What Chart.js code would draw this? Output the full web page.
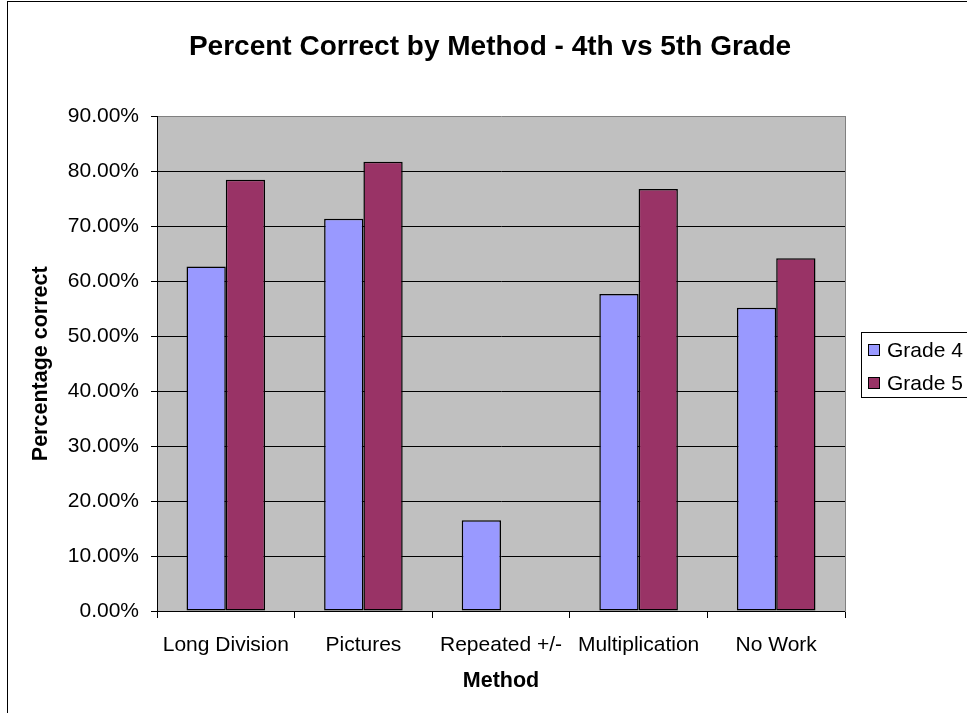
<!DOCTYPE html>
<html>
<head>
<meta charset="utf-8">
<title>Percent Correct by Method</title>
<script src="https://cdn.jsdelivr.net/npm/chart.js@4"></script>
<style>
  html, body { margin: 0; padding: 0; background: #fff; }
  canvas { display: block; }
</style>
</head>
<body>
<canvas id="methodChart" width="967" height="713"></canvas>
<script>
// Chart data
const methods = ["Long Division", "Pictures", "Repeated +/-", "Multiplication", "No Work"];
const grade4 = [62.7, 71.4, 16.5, 57.7, 55.2];
const grade5 = [78.5, 81.8, 0, 76.8, 64.2];
const seriesNames = ["Grade 4", "Grade 5"];
const yTicks = [0, 10, 20, 30, 40, 50, 60, 70, 80, 90];

const fontFamily = "'Liberation Sans', Arial, sans-serif";

// Grey plot area plus the outer chart frame
const plotBackground = {
  id: "plotBackground",
  beforeDraw(chart) {
    const { ctx, chartArea } = chart;
    ctx.save();
    ctx.fillStyle = "#fff";
    ctx.fillRect(0, 0, chart.width, chart.height);
    ctx.fillStyle = "#C0C0C0";
    ctx.fillRect(chartArea.left, chartArea.top, chartArea.right - chartArea.left, chartArea.bottom - chartArea.top);
    ctx.strokeStyle = "#000";
    ctx.lineWidth = 1;
    ctx.strokeRect(7.5, 1.5, 1200, 1200);
    ctx.restore();
  },
};

// Excel style boxed legend on the right
const boxedLegend = {
  id: "boxedLegend",
  afterDraw(chart) {
    const { ctx } = chart;
    ctx.save();
    ctx.fillStyle = "#fff";
    ctx.fillRect(861, 332, 200, 65);
    ctx.strokeStyle = "#000";
    ctx.lineWidth = 1;
    ctx.strokeRect(861.5, 332.5, 200, 65);
    ctx.font = "21px " + fontFamily;
    ctx.textBaseline = "middle";
    chart.data.datasets.forEach((ds, i) => {
      const y = 350 + i * 33;
      ctx.fillStyle = ds.backgroundColor;
      ctx.fillRect(868.5, y - 5.5, 11, 11);
      ctx.strokeRect(868.5, y - 5.5, 11, 11);
      ctx.fillStyle = "#000";
      ctx.fillText(ds.label, 887, y + 1);
    });
    ctx.restore();
  },
};

const ctx = document.getElementById("methodChart").getContext("2d");

new Chart(ctx, {
  type: "bar",
  data: {
    labels: methods,
    datasets: [
      {
        label: seriesNames[0],
        data: grade4,
        backgroundColor: "#9999FF",
        borderColor: "#000",
        borderWidth: 1.5,
        borderSkipped: false,
      },
      {
        label: seriesNames[1],
        data: grade5,
        backgroundColor: "#993366",
        borderColor: "#000",
        borderWidth: 1.5,
        borderSkipped: false,
      },
    ],
  },
  options: {
    responsive: false,
    animation: false,
    devicePixelRatio: 1,
    layout: {
      padding: { left: 13, right: 0, top: 0, bottom: 0 },
    },
    datasets: {
      bar: {
        categoryPercentage: 0.571,
        barPercentage: 1.0,
      },
    },
    plugins: {
      legend: { display: false },
      tooltip: { enabled: false },
      title: {
        display: true,
        text: "Percent Correct by Method - 4th vs 5th Grade",
        color: "#000",
        font: { family: fontFamily, size: 28, weight: "bold" },
        padding: { top: 30, bottom: 53 },
      },
    },
    scales: {
      x: {
        offset: true,
        grid: {
          display: true,
          offset: true,
          drawOnChartArea: false,
          drawTicks: true,
          tickLength: 7,
          color: "#000",
        },
        border: { display: true, color: "#000", width: 1 },
        ticks: {
          color: "#000",
          padding: 15,
          maxRotation: 0,
          autoSkip: false,
          font: { family: fontFamily, size: 21 },
        },
        title: {
          display: true,
          text: "Method",
          color: "#000",
          font: { family: fontFamily, size: 21.5, weight: "bold" },
          padding: { top: 0, bottom: 19 },
        },
        afterFit(scale) {
          scale.height = 102;
        },
      },
      y: {
        min: 0,
        max: 90,
        afterBuildTicks(scale) {
          scale.ticks = yTicks.map((v) => ({ value: v }));
        },
        grid: {
          color: (c) => (c.tick && c.tick.value === 90 ? "#808080" : "#000"),
          tickColor: "#000",
          tickLength: 6,
        },
        border: { display: true, color: "#000", width: 1 },
        ticks: {
          color: "#000",
          padding: 12,
          font: { family: fontFamily, size: 21 },
          callback: (v) => v.toFixed(2) + "%",
        },
        title: {
          display: true,
          text: "Percentage correct",
          color: "#000",
          font: { family: fontFamily, size: 21.5, weight: "bold" },
          padding: { top: 15, bottom: 0 },
        },
        afterFit(scale) {
          scale.width = 144;
        },
      },
      // keeps room for the legend and draws the grey right edge of the plot
      yRight: {
        position: "right",
        display: true,
        grid: { display: false },
        ticks: { display: false },
        border: { display: true, color: "#808080", width: 1 },
        afterFit(scale) {
          scale.width = 122;
        },
      },
    },
  },
  plugins: [plotBackground, boxedLegend],
});
</script>
</body>
</html>
